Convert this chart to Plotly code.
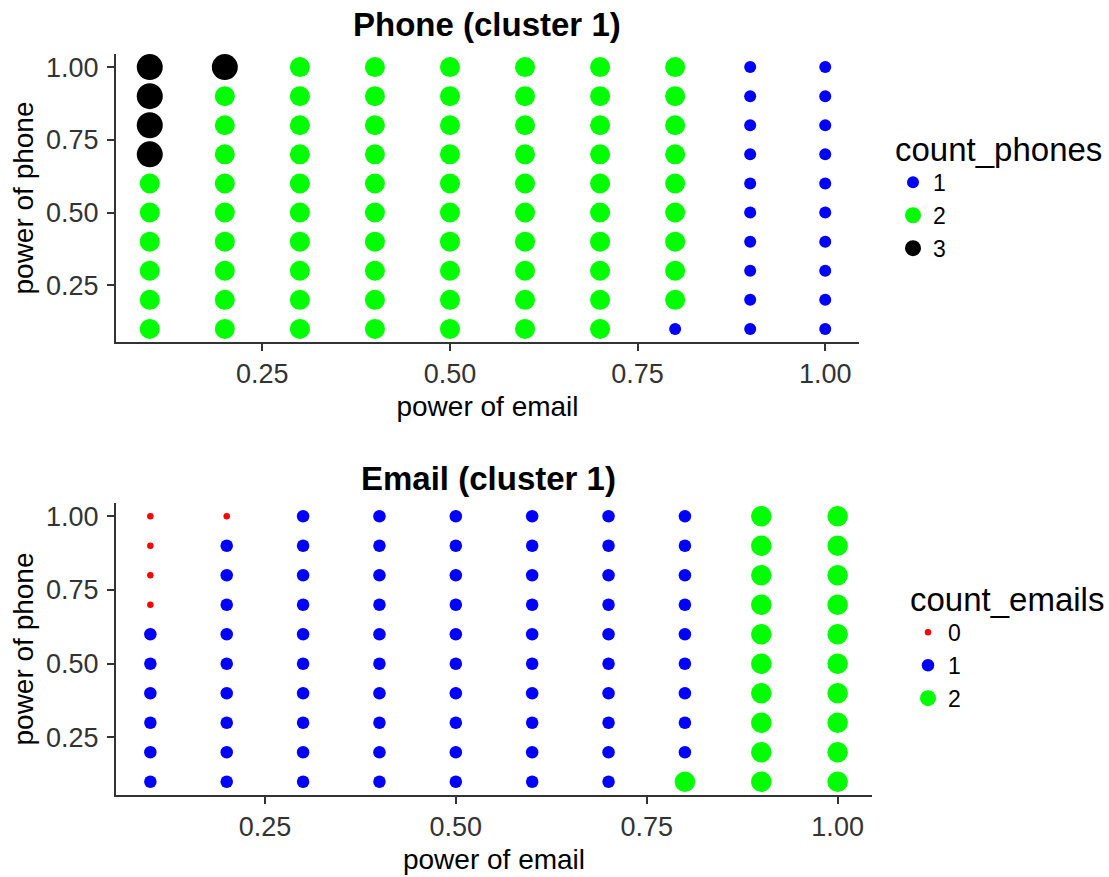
import plotly.graph_objects as go

# ---- data ----
email_levels = [0.1, 0.2, 0.3, 0.4, 0.5, 0.6, 0.7, 0.8, 0.9, 1.0]
phone_levels = [0.1, 0.2, 0.3, 0.4, 0.5, 0.6, 0.7, 0.8, 0.9, 1.0]

# count_phones[i][j]: email_levels[i], phone_levels[j]
count_phones = [
    [2, 2, 2, 2, 2, 2, 3, 3, 3, 3],
    [2, 2, 2, 2, 2, 2, 2, 2, 2, 3],
    [2, 2, 2, 2, 2, 2, 2, 2, 2, 2],
    [2, 2, 2, 2, 2, 2, 2, 2, 2, 2],
    [2, 2, 2, 2, 2, 2, 2, 2, 2, 2],
    [2, 2, 2, 2, 2, 2, 2, 2, 2, 2],
    [2, 2, 2, 2, 2, 2, 2, 2, 2, 2],
    [1, 2, 2, 2, 2, 2, 2, 2, 2, 2],
    [1, 1, 1, 1, 1, 1, 1, 1, 1, 1],
    [1, 1, 1, 1, 1, 1, 1, 1, 1, 1],
]

count_emails = [
    [1, 1, 1, 1, 1, 1, 0, 0, 0, 0],
    [1, 1, 1, 1, 1, 1, 1, 1, 1, 0],
    [1, 1, 1, 1, 1, 1, 1, 1, 1, 1],
    [1, 1, 1, 1, 1, 1, 1, 1, 1, 1],
    [1, 1, 1, 1, 1, 1, 1, 1, 1, 1],
    [1, 1, 1, 1, 1, 1, 1, 1, 1, 1],
    [1, 1, 1, 1, 1, 1, 1, 1, 1, 1],
    [2, 1, 1, 1, 1, 1, 1, 1, 1, 1],
    [2, 2, 2, 2, 2, 2, 2, 2, 2, 2],
    [2, 2, 2, 2, 2, 2, 2, 2, 2, 2],
]

phone_cats = [1, 2, 3]
phone_colors = {1: "#0000FF", 2: "#00FF00", 3: "#000000"}
phone_sizes = {1: 12, 2: 20, 3: 26}

email_cats = [0, 1, 2]
email_colors = {0: "#FF0000", 1: "#0000FF", 2: "#00FF00"}
email_sizes = {0: 6.5, 1: 12.5, 2: 20.5}

FONT = "Liberation Sans, Arial, sans-serif"
W, H = 1109, 877

fig = go.Figure()


def add_points(counts, cats, colors, sizes, xa, ya, legend):
    for c in cats:
        xs, ys = [], []
        for i, ex in enumerate(email_levels):
            for j, py in enumerate(phone_levels):
                if counts[i][j] == c:
                    xs.append(ex)
                    ys.append(py)
        fig.add_trace(go.Scatter(
            x=xs, y=ys, mode="markers", name=str(c),
            marker=dict(color=colors[c], size=sizes[c], line=dict(width=0)),
            xaxis=xa, yaxis=ya, legend=legend, showlegend=True,
        ))


add_points(count_phones, phone_cats, phone_colors, phone_sizes, "x", "y", "legend")
add_points(count_emails, email_cats, email_colors, email_sizes, "x2", "y2", "legend2")


def px_x(p):
    return p / W


def px_y(p):
    return 1 - p / H


axis_common = dict(
    range=[0.055, 1.045], tick0=0, dtick=0.25, tickformat=".2f",
    showgrid=False, zeroline=False, showline=True, linecolor="#333333",
    linewidth=2, ticks="outside", ticklen=7, tickwidth=1.5, tickcolor="#333333",
    tickfont=dict(family=FONT, size=27, color="#333333"),
    title_font=dict(family=FONT, size=28, color="#000000"),
)

fig.update_layout(
    width=W, height=H,
    margin=dict(l=0, r=0, t=0, b=0),
    paper_bgcolor="white", plot_bgcolor="white",
    font=dict(family=FONT, color="#000000"),
    xaxis=dict(axis_common, domain=[px_x(116), px_x(859)], anchor="y",
               title=dict(text="power of email", standoff=8)),
    yaxis=dict(axis_common, domain=[px_y(342), px_y(54)], anchor="x",
               title=dict(text="power of phone", standoff=4), ticklabelstandoff=3),
    xaxis2=dict(axis_common, domain=[px_x(116), px_x(872)], anchor="y2",
                title=dict(text="power of email", standoff=8)),
    yaxis2=dict(axis_common, domain=[px_y(795), px_y(503)], anchor="x2",
                title=dict(text="power of phone", standoff=4), ticklabelstandoff=3),
    legend=dict(
        x=px_x(893), y=px_y(118), xanchor="left", yanchor="top",
        title=dict(text="count_phones", font=dict(family=FONT, size=33, color="#000")),
        font=dict(family=FONT, size=23, color="#000"),
        itemsizing="trace", tracegroupgap=0, bgcolor="rgba(0,0,0,0)",
    ),
    legend2=dict(
        x=px_x(908), y=px_y(568), xanchor="left", yanchor="top",
        title=dict(text="count_emails", font=dict(family=FONT, size=33, color="#000")),
        font=dict(family=FONT, size=23, color="#000"),
        itemsizing="trace", tracegroupgap=0, bgcolor="rgba(0,0,0,0)",
    ),
    annotations=[
        dict(text="<b>Phone (cluster 1)</b>", x=px_x(487), y=px_y(25),
             xref="paper", yref="paper", showarrow=False,
             xanchor="center", yanchor="middle",
             font=dict(family=FONT, size=33, color="#000")),
        dict(text="<b>Email (cluster 1)</b>", x=px_x(488), y=px_y(478),
             xref="paper", yref="paper", showarrow=False,
             xanchor="center", yanchor="middle",
             font=dict(family=FONT, size=33, color="#000")),
    ],
)

fig.write_html("out.html", config={"displayModeBar": False},
               post_script="document.body.style.margin='0';")
